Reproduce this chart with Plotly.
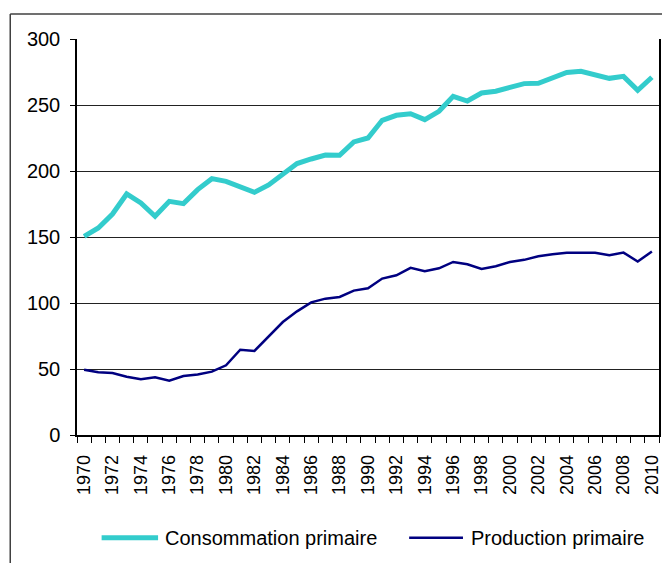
import plotly.graph_objects as go

years = list(range(1970, 2011))
consommation = [150.5, 156.8, 167.4, 182.6, 175.8, 165.7, 177.0, 175.3, 185.9, 194.2,
                192.2, 188.4, 183.8, 189.4, 197.7, 205.6, 209.1, 212.1, 211.9, 222.0,
                225.0, 238.4, 242.2, 243.4, 238.9, 245.2, 256.6, 253.0, 259.1, 260.4,
                263.4, 266.2, 266.4, 270.5, 274.7, 275.5, 272.7, 270.2, 271.7, 261.1, 271.0]
production = [49.5, 47.5, 47.0, 44.2, 42.2, 43.7, 41.2, 44.7, 45.9, 48.0,
              52.8, 64.6, 63.7, 74.3, 85.6, 93.7, 100.5, 103.3, 104.6, 109.4,
              111.1, 118.5, 121.0, 126.6, 124.0, 126.3, 131.1, 129.4, 125.8, 127.8,
              131.1, 132.7, 135.4, 137.0, 138.0, 138.0, 138.0, 136.2, 138.2, 131.4, 139.0]
tick_years = list(range(1970, 2011, 2))
y_ticks = [0, 50, 100, 150, 200, 250, 300]
series_names = ["Consommation primaire", "Production primaire"]
series_colors = ["#33CCCC", "#000080"]
series_widths = [5, 2.5]

font = "Liberation Sans, Arial, sans-serif"

fig = go.Figure()
for name, vals, col, w in zip(series_names, [consommation, production], series_colors, series_widths):
    fig.add_trace(go.Scatter(x=years, y=vals, mode="lines", name=name,
                             line=dict(color=col, width=w), showlegend=False))

# custom legend (sample line + label), placed below the chart
leg_y = -0.2593
leg_lines = [(0.0423, 0.1393, 0.1474), (0.5707, 0.6632, 0.6735)]
shapes = [
    dict(type="line", xref="paper", yref="paper", x0=-0.1147, x1=-0.1147, y0=1.0631, y1=-0.35,
         line=dict(color="#404040", width=1.5)),
    dict(type="line", xref="paper", yref="paper", x0=-0.1147, x1=1.01, y0=1.0631, y1=1.0631,
         line=dict(color="#404040", width=1.5)),
]
annotations = []
for (x0, x1, xt), name, col, w in zip(leg_lines, series_names, series_colors, series_widths):
    shapes.append(dict(type="line", xref="paper", yref="paper", x0=x0, x1=x1, y0=leg_y, y1=leg_y,
                       line=dict(color=col, width=w)))
    annotations.append(dict(xref="paper", yref="paper", x=xt, y=leg_y, text=name, showarrow=False,
                            xanchor="left", yanchor="middle",
                            font=dict(family=font, size=20, color="black")))

fig.update_layout(
    width=662, height=563,
    margin=dict(l=77, r=1, t=39, b=128),
    paper_bgcolor="white", plot_bgcolor="white",
    font=dict(family=font, color="black", size=20),
    showlegend=False,
    xaxis=dict(range=[1969.5, 2010.5], tickvals=tick_years, ticktext=[str(y) for y in tick_years],
               tickangle=-90, ticks="outside", ticklen=6, tickcolor="rgba(0,0,0,0)",
               ticklabelstandoff=5,
               showgrid=False, zeroline=False,
               showline=True, linecolor="black", linewidth=1.5,
               tickfont=dict(size=18),
               minor=dict(ticks="outside", tick0=1969.5, dtick=1, ticklen=6,
                          tickcolor="black", tickwidth=1, showgrid=False)),
    yaxis=dict(range=[0, 300], tickvals=y_ticks, ticks="outside", ticklen=5, tickcolor="black",
               ticklabelstandoff=6,
               showgrid=True, gridcolor="#222222", gridwidth=1, zeroline=False,
               showline=True, linecolor="black", linewidth=1.5, mirror=True,
               tickfont=dict(size=20)),
    shapes=shapes,
    annotations=annotations,
)

fig.write_html("out.html",
               config={"displayModeBar": False},
               post_script="document.body.style.margin='0';document.body.style.overflow='hidden';")
